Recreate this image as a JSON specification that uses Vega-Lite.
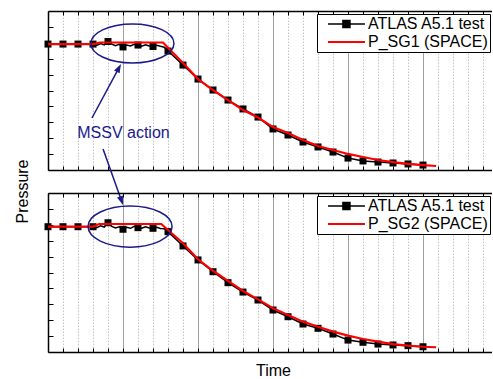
{
  "$schema": "https://vega.github.io/schema/vega-lite/v6.json",
  "padding": {"left": 14, "top": 10, "right": 0, "bottom": 0},
  "bounds": "flush",
  "spacing": 23,
  "config": {
    "font": "Liberation Sans",
    "view": {"stroke": null},
    "axis": {"domainColor": "#000000", "domainWidth": 1.5, "tickColor": "#000000", "tickWidth": 1, "labels": false, "titleFontWeight": "normal", "titleColor": "#000000", "titleFontSize": 16},
    "axisY": {"tickCount": 10, "tickSize": -5, "grid": false, "domain": true, "ticks": true}
  },
  "resolve": {"scale": {"color": "independent"}, "legend": {"color": "independent"}},
  "vconcat": [
    {
      "width": 444,
      "height": 159,
      "data": {"values": [
        {"x": 0, "y": 7.92, "series": "ATLAS A5.1 test"},
        {"x": 1, "y": 7.92, "series": "ATLAS A5.1 test"},
        {"x": 2, "y": 7.92, "series": "ATLAS A5.1 test"},
        {"x": 3, "y": 7.92, "series": "ATLAS A5.1 test"},
        {"x": 3.25, "y": 7.84, "series": "ATLAS A5.1 test"},
        {"x": 3.5, "y": 7.95, "series": "ATLAS A5.1 test"},
        {"x": 3.75, "y": 7.87, "series": "ATLAS A5.1 test"},
        {"x": 4, "y": 8.08, "series": "ATLAS A5.1 test"},
        {"x": 4.25, "y": 7.92, "series": "ATLAS A5.1 test"},
        {"x": 4.5, "y": 7.82, "series": "ATLAS A5.1 test"},
        {"x": 4.75, "y": 7.9, "series": "ATLAS A5.1 test"},
        {"x": 5, "y": 7.74, "series": "ATLAS A5.1 test"},
        {"x": 5.25, "y": 7.86, "series": "ATLAS A5.1 test"},
        {"x": 5.5, "y": 7.8, "series": "ATLAS A5.1 test"},
        {"x": 5.75, "y": 7.91, "series": "ATLAS A5.1 test"},
        {"x": 6, "y": 7.86, "series": "ATLAS A5.1 test"},
        {"x": 6.25, "y": 7.79, "series": "ATLAS A5.1 test"},
        {"x": 6.5, "y": 7.88, "series": "ATLAS A5.1 test"},
        {"x": 6.75, "y": 7.8, "series": "ATLAS A5.1 test"},
        {"x": 7, "y": 7.77, "series": "ATLAS A5.1 test"},
        {"x": 7.25, "y": 7.85, "series": "ATLAS A5.1 test"},
        {"x": 7.5, "y": 7.78, "series": "ATLAS A5.1 test"},
        {"x": 7.75, "y": 7.72, "series": "ATLAS A5.1 test"},
        {"x": 8, "y": 7.48, "series": "ATLAS A5.1 test"},
        {"x": 9, "y": 6.6, "series": "ATLAS A5.1 test"},
        {"x": 10, "y": 5.72, "series": "ATLAS A5.1 test"},
        {"x": 11, "y": 5.03, "series": "ATLAS A5.1 test"},
        {"x": 12, "y": 4.4, "series": "ATLAS A5.1 test"},
        {"x": 13, "y": 3.84, "series": "ATLAS A5.1 test"},
        {"x": 14, "y": 3.33, "series": "ATLAS A5.1 test"},
        {"x": 15, "y": 2.58, "series": "ATLAS A5.1 test"},
        {"x": 16, "y": 2.2, "series": "ATLAS A5.1 test"},
        {"x": 17, "y": 1.76, "series": "ATLAS A5.1 test"},
        {"x": 18, "y": 1.45, "series": "ATLAS A5.1 test"},
        {"x": 19, "y": 1.13, "series": "ATLAS A5.1 test"},
        {"x": 20, "y": 0.75, "series": "ATLAS A5.1 test"},
        {"x": 21, "y": 0.57, "series": "ATLAS A5.1 test"},
        {"x": 22, "y": 0.5, "series": "ATLAS A5.1 test"},
        {"x": 23, "y": 0.44, "series": "ATLAS A5.1 test"},
        {"x": 24, "y": 0.38, "series": "ATLAS A5.1 test"},
        {"x": 25, "y": 0.31, "series": "ATLAS A5.1 test"},
        {"x": 0, "y": 7.92, "series": "P_SG1 (SPACE)"},
        {"x": 3, "y": 7.92, "series": "P_SG1 (SPACE)"},
        {"x": 3.47, "y": 8.02, "series": "P_SG1 (SPACE)"},
        {"x": 7.67, "y": 8.02, "series": "P_SG1 (SPACE)"},
        {"x": 8.1, "y": 7.6, "series": "P_SG1 (SPACE)"},
        {"x": 9, "y": 6.73, "series": "P_SG1 (SPACE)"},
        {"x": 10, "y": 5.72, "series": "P_SG1 (SPACE)"},
        {"x": 11, "y": 5.03, "series": "P_SG1 (SPACE)"},
        {"x": 12, "y": 4.4, "series": "P_SG1 (SPACE)"},
        {"x": 13, "y": 3.77, "series": "P_SG1 (SPACE)"},
        {"x": 14, "y": 3.3, "series": "P_SG1 (SPACE)"},
        {"x": 15, "y": 2.7, "series": "P_SG1 (SPACE)"},
        {"x": 16, "y": 2.33, "series": "P_SG1 (SPACE)"},
        {"x": 17, "y": 1.89, "series": "P_SG1 (SPACE)"},
        {"x": 18, "y": 1.51, "series": "P_SG1 (SPACE)"},
        {"x": 19, "y": 1.26, "series": "P_SG1 (SPACE)"},
        {"x": 20, "y": 1.01, "series": "P_SG1 (SPACE)"},
        {"x": 21, "y": 0.82, "series": "P_SG1 (SPACE)"},
        {"x": 22, "y": 0.63, "series": "P_SG1 (SPACE)"},
        {"x": 23, "y": 0.5, "series": "P_SG1 (SPACE)"},
        {"x": 24, "y": 0.38, "series": "P_SG1 (SPACE)"},
        {"x": 25, "y": 0.31, "series": "P_SG1 (SPACE)"},
        {"x": 25.87, "y": 0.25, "series": "P_SG1 (SPACE)"}
      ]},
      "layer": [
        {
          "transform": [{"filter": "datum.series === 'ATLAS A5.1 test'"}],
          "mark": {"type": "line", "strokeWidth": 1.5},
          "encoding": {
            "x": {"field": "x", "type": "quantitative", "scale": {"domain": [0, 29.6], "nice": false},
              "axis": {"orient": "bottom", "title": null, "domain": true, "ticks": true, "tickSize": -4, "values": [1,2,3,4,5,6,7,8,9,10,11,12,13,14,15,16,17,18,19,20,21,22,23,24,25,26,27,28,29],
                "grid": true,
                "gridDash": {"condition": {"test": "datum.value % 5 === 0", "value": []}, "value": [1.5, 1.5]},
                "gridColor": {"condition": {"test": "datum.value % 5 === 0", "value": "#a0a0a0"}, "value": "#c4c4c4"},
                "gridWidth": 1}},
            "y": {"field": "y", "type": "quantitative", "scale": {"domain": [0, 10], "nice": false},
              "axis": {"title": "Pressure", "titleX": -34, "titleY": 180, "titleAngle": -90, "titleAlign": "center", "titleBaseline": "top"}},
            "color": {"field": "series", "type": "nominal",
              "scale": {"domain": ["ATLAS A5.1 test", "P_SG1 (SPACE)"], "range": ["#000000", "#ff0000"]},
              "legend": {"orient": "none", "legendX": 269, "legendY": 3, "title": null, "padding": 2, "rowPadding": 2,
                "strokeColor": "#000000", "fillColor": "#ffffff", "cornerRadius": 0, "symbolSize": 324, "symbolStrokeWidth": 1.5,
                "labelFontSize": 16, "labelColor": "#000000", "labelOffset": 33, "labelLimit": 300,
                "encode": {"symbols": {"update": {
                  "shape": {"signal": "datum.value === 'ATLAS A5.1 test' ? 'M0.11,0H4.22M1.77,-0.39H2.55V0.39H1.77Z' : 'M0.11,0H4.22'"},
                  "fill": {"signal": "datum.value === 'ATLAS A5.1 test' ? '#000000' : 'transparent'"},
                  "stroke": {"signal": "datum.value === 'ATLAS A5.1 test' ? '#000000' : '#ff0000'"},
                  "strokeWidth": {"signal": "datum.value === 'ATLAS A5.1 test' ? 1.5 : 2"},
                  "opacity": {"value": 1}}}}}}
          }
        },
        {
          "transform": [{"filter": "datum.series === 'ATLAS A5.1 test' && datum.x % 1 === 0"}],
          "mark": {"type": "point", "shape": "square", "filled": true, "size": 49, "opacity": 1},
          "encoding": {
            "x": {"field": "x", "type": "quantitative", "axis": {"orient": "top", "title": null, "domain": true, "ticks": true, "tickSize": -4, "grid": false, "values": [1,2,3,4,5,6,7,8,9,10,11,12,13,14,15,16,17,18,19,20,21,22,23,24,25,26,27,28,29]}},
            "y": {"field": "y", "type": "quantitative"},
            "color": {"field": "series", "type": "nominal"}
          }
        },
        {
          "transform": [{"filter": "datum.series !== 'ATLAS A5.1 test'"}],
          "mark": {"type": "line", "strokeWidth": 2.2},
          "encoding": {
            "x": {"field": "x", "type": "quantitative", "axis": null},
            "y": {"field": "y", "type": "quantitative"},
            "color": {"field": "series", "type": "nominal"}
          }
        },
        {
          "data": {"values": [{"x": 5.63, "y": 7.96}]},
          "mark": {"type": "point", "shape": "M-1,0A1,0.47,0,1,1,1,0A1,0.47,0,1,1,-1,0Z", "size": 6889, "filled": false, "stroke": "#1a1a8c", "strokeWidth": 1.5, "opacity": 1},
          "encoding": {"x": {"field": "x", "type": "quantitative", "axis": null}, "y": {"field": "y", "type": "quantitative"}}
        },
        {
          "data": {"values": [{"x": 5.03, "y": 2.33, "label": "MSSV action"}]},
          "mark": {"type": "text", "fontSize": 16, "color": "#1a1a8c", "align": "center", "baseline": "middle"},
          "encoding": {"x": {"field": "x", "type": "quantitative", "axis": null}, "y": {"field": "y", "type": "quantitative"}, "text": {"field": "label"}}
        },
        {
          "data": {"values": [{"x": 2.93, "y": 3.27, "x2": 4.71, "y2": 6.39}, {"x": 3.67, "y": 1.32, "x2": 4.89, "y2": -1.91}]},
          "mark": {"type": "rule", "color": "#1a1a8c", "strokeWidth": 1.5},
          "encoding": {"x": {"field": "x", "type": "quantitative", "axis": null}, "y": {"field": "y", "type": "quantitative"}, "x2": {"field": "x2"}, "y2": {"field": "y2"}}
        },
        {
          "data": {"values": [{"x": 4.87, "y": 6.67}]},
          "mark": {"type": "point", "shape": "M0,0L0.35,1L-0.35,1Z", "size": 324, "filled": true, "color": "#1a1a8c", "angle": 28.2, "opacity": 1},
          "encoding": {"x": {"field": "x", "type": "quantitative", "axis": null}, "y": {"field": "y", "type": "quantitative"}}
        },
        {
          "data": {"values": [{"x": 5.0, "y": -2.2}]},
          "mark": {"type": "point", "shape": "M0,0L0.35,1L-0.35,1Z", "size": 324, "filled": true, "color": "#1a1a8c", "angle": 160.3, "opacity": 1},
          "encoding": {"x": {"field": "x", "type": "quantitative", "axis": null}, "y": {"field": "y", "type": "quantitative"}}
        }
      ]
    },
    {
      "width": 444,
      "height": 159,
      "data": {"values": [
        {"x": 0, "y": 7.88, "series": "ATLAS A5.1 test"},
        {"x": 1, "y": 7.88, "series": "ATLAS A5.1 test"},
        {"x": 2, "y": 7.88, "series": "ATLAS A5.1 test"},
        {"x": 3, "y": 7.88, "series": "ATLAS A5.1 test"},
        {"x": 3.25, "y": 7.82, "series": "ATLAS A5.1 test"},
        {"x": 3.5, "y": 7.94, "series": "ATLAS A5.1 test"},
        {"x": 3.75, "y": 7.86, "series": "ATLAS A5.1 test"},
        {"x": 4, "y": 8.13, "series": "ATLAS A5.1 test"},
        {"x": 4.25, "y": 7.9, "series": "ATLAS A5.1 test"},
        {"x": 4.5, "y": 7.8, "series": "ATLAS A5.1 test"},
        {"x": 4.75, "y": 7.88, "series": "ATLAS A5.1 test"},
        {"x": 5, "y": 7.72, "series": "ATLAS A5.1 test"},
        {"x": 5.25, "y": 7.85, "series": "ATLAS A5.1 test"},
        {"x": 5.5, "y": 7.78, "series": "ATLAS A5.1 test"},
        {"x": 5.75, "y": 7.9, "series": "ATLAS A5.1 test"},
        {"x": 6, "y": 7.82, "series": "ATLAS A5.1 test"},
        {"x": 6.25, "y": 7.78, "series": "ATLAS A5.1 test"},
        {"x": 6.5, "y": 7.87, "series": "ATLAS A5.1 test"},
        {"x": 6.75, "y": 7.8, "series": "ATLAS A5.1 test"},
        {"x": 7, "y": 7.78, "series": "ATLAS A5.1 test"},
        {"x": 7.25, "y": 7.84, "series": "ATLAS A5.1 test"},
        {"x": 7.5, "y": 7.77, "series": "ATLAS A5.1 test"},
        {"x": 7.75, "y": 7.75, "series": "ATLAS A5.1 test"},
        {"x": 8, "y": 7.57, "series": "ATLAS A5.1 test"},
        {"x": 9, "y": 6.67, "series": "ATLAS A5.1 test"},
        {"x": 10, "y": 5.79, "series": "ATLAS A5.1 test"},
        {"x": 11, "y": 5.05, "series": "ATLAS A5.1 test"},
        {"x": 12, "y": 4.36, "series": "ATLAS A5.1 test"},
        {"x": 13, "y": 3.77, "series": "ATLAS A5.1 test"},
        {"x": 14, "y": 3.27, "series": "ATLAS A5.1 test"},
        {"x": 15, "y": 2.64, "series": "ATLAS A5.1 test"},
        {"x": 16, "y": 2.22, "series": "ATLAS A5.1 test"},
        {"x": 17, "y": 1.76, "series": "ATLAS A5.1 test"},
        {"x": 18, "y": 1.49, "series": "ATLAS A5.1 test"},
        {"x": 19, "y": 1.13, "series": "ATLAS A5.1 test"},
        {"x": 20, "y": 0.75, "series": "ATLAS A5.1 test"},
        {"x": 21, "y": 0.61, "series": "ATLAS A5.1 test"},
        {"x": 22, "y": 0.5, "series": "ATLAS A5.1 test"},
        {"x": 23, "y": 0.44, "series": "ATLAS A5.1 test"},
        {"x": 24, "y": 0.4, "series": "ATLAS A5.1 test"},
        {"x": 25, "y": 0.33, "series": "ATLAS A5.1 test"},
        {"x": 0, "y": 7.88, "series": "P_SG2 (SPACE)"},
        {"x": 3, "y": 7.88, "series": "P_SG2 (SPACE)"},
        {"x": 3.4, "y": 8.05, "series": "P_SG2 (SPACE)"},
        {"x": 7.55, "y": 8.05, "series": "P_SG2 (SPACE)"},
        {"x": 8, "y": 7.67, "series": "P_SG2 (SPACE)"},
        {"x": 9, "y": 6.84, "series": "P_SG2 (SPACE)"},
        {"x": 10, "y": 5.83, "series": "P_SG2 (SPACE)"},
        {"x": 11, "y": 5.11, "series": "P_SG2 (SPACE)"},
        {"x": 12, "y": 4.47, "series": "P_SG2 (SPACE)"},
        {"x": 13, "y": 3.84, "series": "P_SG2 (SPACE)"},
        {"x": 14, "y": 3.31, "series": "P_SG2 (SPACE)"},
        {"x": 15, "y": 2.75, "series": "P_SG2 (SPACE)"},
        {"x": 16, "y": 2.33, "series": "P_SG2 (SPACE)"},
        {"x": 17, "y": 1.91, "series": "P_SG2 (SPACE)"},
        {"x": 18, "y": 1.59, "series": "P_SG2 (SPACE)"},
        {"x": 19, "y": 1.28, "series": "P_SG2 (SPACE)"},
        {"x": 20, "y": 1.03, "series": "P_SG2 (SPACE)"},
        {"x": 21, "y": 0.82, "series": "P_SG2 (SPACE)"},
        {"x": 22, "y": 0.65, "series": "P_SG2 (SPACE)"},
        {"x": 23, "y": 0.5, "series": "P_SG2 (SPACE)"},
        {"x": 24, "y": 0.4, "series": "P_SG2 (SPACE)"},
        {"x": 25, "y": 0.33, "series": "P_SG2 (SPACE)"},
        {"x": 25.87, "y": 0.3, "series": "P_SG2 (SPACE)"}
      ]},
      "layer": [
        {
          "transform": [{"filter": "datum.series === 'ATLAS A5.1 test'"}],
          "mark": {"type": "line", "strokeWidth": 1.5},
          "encoding": {
            "x": {"field": "x", "type": "quantitative", "scale": {"domain": [0, 29.6], "nice": false},
              "axis": {"orient": "bottom", "title": "Time", "titleX": 225, "titleY": 23, "titleAlign": "center", "titleBaseline": "alphabetic", "domain": true, "ticks": true, "tickSize": -4, "values": [1,2,3,4,5,6,7,8,9,10,11,12,13,14,15,16,17,18,19,20,21,22,23,24,25,26,27,28,29],
                "grid": true,
                "gridDash": {"condition": {"test": "datum.value % 5 === 0", "value": []}, "value": [1.5, 1.5]},
                "gridColor": {"condition": {"test": "datum.value % 5 === 0", "value": "#a0a0a0"}, "value": "#c4c4c4"},
                "gridWidth": 1}},
            "y": {"field": "y", "type": "quantitative", "scale": {"domain": [0, 10], "nice": false},
              "axis": {"title": null}},
            "color": {"field": "series", "type": "nominal",
              "scale": {"domain": ["ATLAS A5.1 test", "P_SG2 (SPACE)"], "range": ["#000000", "#ff0000"]},
              "legend": {"orient": "none", "legendX": 269, "legendY": 3, "title": null, "padding": 2, "rowPadding": 2,
                "strokeColor": "#000000", "fillColor": "#ffffff", "cornerRadius": 0, "symbolSize": 324, "symbolStrokeWidth": 1.5,
                "labelFontSize": 16, "labelColor": "#000000", "labelOffset": 33, "labelLimit": 300,
                "encode": {"symbols": {"update": {
                  "shape": {"signal": "datum.value === 'ATLAS A5.1 test' ? 'M0.11,0H4.22M1.77,-0.39H2.55V0.39H1.77Z' : 'M0.11,0H4.22'"},
                  "fill": {"signal": "datum.value === 'ATLAS A5.1 test' ? '#000000' : 'transparent'"},
                  "stroke": {"signal": "datum.value === 'ATLAS A5.1 test' ? '#000000' : '#ff0000'"},
                  "strokeWidth": {"signal": "datum.value === 'ATLAS A5.1 test' ? 1.5 : 2"},
                  "opacity": {"value": 1}}}}}}
          }
        },
        {
          "transform": [{"filter": "datum.series === 'ATLAS A5.1 test' && datum.x % 1 === 0"}],
          "mark": {"type": "point", "shape": "square", "filled": true, "size": 49, "opacity": 1},
          "encoding": {
            "x": {"field": "x", "type": "quantitative", "axis": {"orient": "top", "title": null, "domain": true, "ticks": true, "tickSize": -4, "grid": false, "values": [1,2,3,4,5,6,7,8,9,10,11,12,13,14,15,16,17,18,19,20,21,22,23,24,25,26,27,28,29]}},
            "y": {"field": "y", "type": "quantitative"},
            "color": {"field": "series", "type": "nominal"}
          }
        },
        {
          "transform": [{"filter": "datum.series !== 'ATLAS A5.1 test'"}],
          "mark": {"type": "line", "strokeWidth": 2.2},
          "encoding": {
            "x": {"field": "x", "type": "quantitative", "axis": null},
            "y": {"field": "y", "type": "quantitative"},
            "color": {"field": "series", "type": "nominal"}
          }
        },
        {
          "data": {"values": [{"x": 5.47, "y": 7.89}]},
          "mark": {"type": "point", "shape": "M-1,0A1,0.49,0,1,1,1,0A1,0.49,0,1,1,-1,0Z", "size": 7056, "filled": false, "stroke": "#1a1a8c", "strokeWidth": 1.5, "opacity": 1},
          "encoding": {"x": {"field": "x", "type": "quantitative", "axis": null}, "y": {"field": "y", "type": "quantitative"}}
        }
      ]
    }
  ]
}
